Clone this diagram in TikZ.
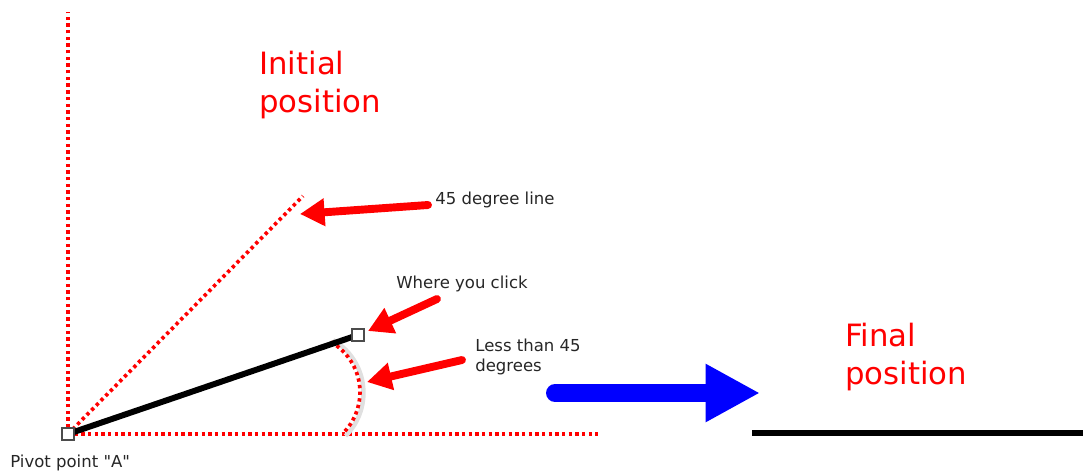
\documentclass[tikz,border=0pt]{standalone}
\usepackage{fontspec}
\setmainfont{DejaVu Sans}
\usetikzlibrary{arrows.meta,positioning}

\tikzset{
	reddots/.style={red, line width=2.1pt, dash pattern=on 1.9pt off 1.9pt},
	pointer/.style={red, line width=4.5pt, line cap=round, -{Triangle[length=14pt,width=15pt]}},
	handle/.style={draw=black!70, fill=white, line width=0.9pt, minimum size=6.6pt, inner sep=0pt},
	note/.style={text=black!85, font=\fontsize{9.4}{11.3}\selectfont, anchor=west, inner sep=0pt, align=left},
	heading/.style={text=red, font=\fontsize{17.5}{21.5}\selectfont, anchor=north west, inner sep=0pt, align=left},
}

\begin{document}
\begin{tikzpicture}[x=0.02cm, y=-0.02cm]
	\useasboundingbox (0,0) rectangle (1083,474);
	
	% Key points
	\coordinate (A) at (68,434);
	\coordinate (C) at (358,335);
	\coordinate (diag) at (303,196);
	\coordinate (diagtip) at (300,214);
	\coordinate (arctip) at (367,382);
	
	% Reference lines
	\draw[reddots] (A) -- (68,12);
	\draw[reddots] (A) -- (598,434);
	\draw[reddots] (A) -- (diag);
	
	% Angle arc
	\draw[black!12, line width=2.5pt] (333,340) arc[start angle=-60, end angle=45, radius=61];
	\draw[reddots] (331,342) arc[start angle=-60, end angle=45, radius=58];
	
	% Line being dragged
	\draw[line width=3.4pt] (A) -- (C);
	\node[handle] (pivot) at (A) {};
	\node[handle] (click) at (C) {};
	
	% Labels
	\node[heading] (initial) at (259,51) {Initial\\position};
	\node[heading] (final) at (845,323) {Final\\position};
	\node[note] (diaglbl) at (435,200) {45 degree line};
	\node[note] (clicklbl) at (396,284) {Where you click};
	\node[note] (anglelbl) at (475,357) {Less than 45\\degrees};
	\node[note] (pivotlbl) at (10,463) {Pivot point \textquotedbl A\textquotedbl};
	
	% Red pointers
	\draw[pointer] (428,205) -- (diagtip);
	\draw[pointer] (437,299) -- ([shift={(10,-4)}]click.center);
	\draw[pointer] (462,360) -- (arctip);
	
	% Move arrow
	\coordinate (movefrom) at (555,393);
	\coordinate (moveto) at (760,393);
	\draw[blue, line width=10.2pt, line cap=round, -{Triangle[length=31pt,width=31pt]}] (movefrom) -- (moveto);
	
	% Final line
	\draw[line width=3.4pt] (752,433) -- (1083,433);
\end{tikzpicture}
\end{document}
